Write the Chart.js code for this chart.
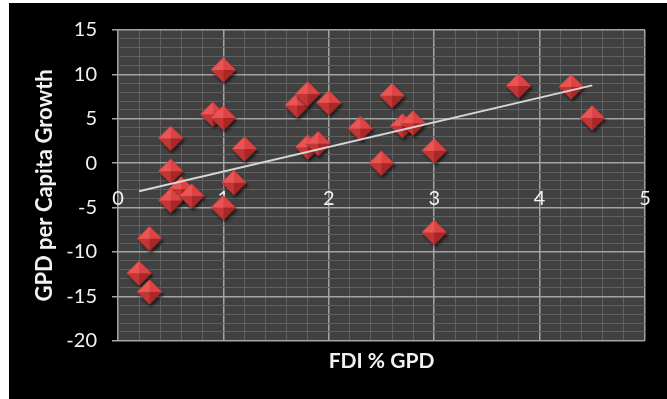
<!DOCTYPE html>
<html>
<head>
<meta charset="utf-8">
<script src="https://cdn.jsdelivr.net/npm/chart.js@4/dist/chart.umd.min.js"></script>
<style>
  html, body { margin: 0; padding: 0; background: #ffffff; width: 667px; height: 399px; overflow: hidden; }
  #frame { position: absolute; left: 9px; top: 3px; width: 658px; height: 396px; background: #000000; }
  #c { display: block; }
</style>
</head>
<body>
<div id="frame"><canvas id="c" width="658" height="396"></canvas></div>
<script>
// FDI inflows as % of GDP, one entry per observation
const fdiShare = [1.0, 0.9, 1.0, 0.5, 0.5, 0.6, 0.5, 0.7, 1.2, 1.1, 1.0, 0.3, 0.2, 0.3,
                  1.7, 1.8, 2.0, 1.8, 1.9, 2.3, 2.5, 2.6, 2.7, 2.8, 3.0, 3.0, 3.8, 4.3, 4.5];
// GDP per capita growth (%) for the same observations
const gdpGrowth = [10.5, 5.5, 5.1, 2.8, -0.9, -2.9, -4.2, -3.7, 1.6, -2.2, -5.0, -8.5, -12.4, -14.5,
                   6.5, 7.8, 6.8, 1.8, 2.2, 3.9, 0.0, 7.6, 4.2, 4.5, 1.4, -7.8, 8.7, 8.6, 5.1];

// Labelled ticks on each axis
const xTickLabels = ['0', '1', '2', '3', '4', '5'];
const yTickLabels = ['-20', '-15', '-10', '-5', '0', '5', '10', '15'];

const points = fdiShare.map((x, i) => ({ x: x, y: gdpGrowth[i] }));

// Least-squares trend line across the observed FDI range
function trendLine(xs, ys) {
  const n = xs.length;
  const mx = xs.reduce((a, b) => a + b, 0) / n;
  const my = ys.reduce((a, b) => a + b, 0) / n;
  let sxy = 0, sxx = 0;
  for (let i = 0; i < n; i++) {
    sxy += (xs[i] - mx) * (ys[i] - my);
    sxx += (xs[i] - mx) * (xs[i] - mx);
  }
  const slope = sxy / sxx;
  const icpt = my - slope * mx;
  const lo = Math.min(...xs), hi = Math.max(...xs);
  return [{ x: lo, y: icpt + slope * lo }, { x: hi, y: icpt + slope * hi }];
}

// Bevelled red diamond marker
function diamondSprite(r) {
  const size = 40;
  const cv = document.createElement('canvas');
  cv.width = size; cv.height = size;
  const g = cv.getContext('2d');
  const c = size / 2;
  const T = [c, c - r], R = [c + r, c], B = [c, c + r], L = [c - r, c], C = [c, c];
  const tri = (a, b, d, col) => {
    g.beginPath(); g.moveTo(a[0], a[1]); g.lineTo(b[0], b[1]); g.lineTo(d[0], d[1]); g.closePath();
    g.fillStyle = col; g.fill();
  };
  g.save();
  g.shadowColor = 'rgba(0,0,0,0.65)';
  g.shadowBlur = 3;
  g.shadowOffsetX = 1.5;
  g.shadowOffsetY = 2.5;
  g.beginPath(); g.moveTo(T[0], T[1]); g.lineTo(R[0], R[1]); g.lineTo(B[0], B[1]); g.lineTo(L[0], L[1]); g.closePath();
  g.fillStyle = '#b83030'; g.fill();
  g.restore();
  tri(L, T, C, '#ea5554');
  tri(T, R, C, '#dc4444');
  tri(L, B, C, '#c43636');
  tri(B, R, C, '#a82828');
  return cv;
}

const isWhole = v => Math.abs(v - Math.round(v)) < 1e-6;
const MAJOR = '#a4a4a4', MINOR = '#616161';

const plotBackground = {
  id: 'plotBackground',
  beforeDraw(chart) {
    const { ctx, chartArea: a } = chart;
    ctx.save();
    ctx.fillStyle = '#414141';
    ctx.fillRect(a.left, a.top, a.right - a.left, a.bottom - a.top);
    ctx.restore();
  }
};

const fontFamily = 'Lato, "Open Sans", sans-serif';

new Chart(document.getElementById('c'), {
  type: 'scatter',
  data: {
    datasets: [
      {
        label: 'Linear trend',
        data: trendLine(fdiShare, gdpGrowth),
        showLine: true,
        borderColor: '#d6d6d6',
        borderWidth: 2,
        pointRadius: 0
      },
      {
        label: 'GPD per Capita Growth',
        data: points,
        pointStyle: diamondSprite(12.5),
        pointRadius: 13
      }
    ]
  },
  options: {
    responsive: false,
    animation: false,
    events: [],
    layout: { padding: { top: 26, right: 22, bottom: 25, left: 0 } },
    plugins: {
      legend: { display: false },
      tooltip: { enabled: false },
      title: {
        display: true,
        position: 'bottom',
        fullSize: false,
        text: 'FDI % GPD',
        color: '#f2f2f2',
        font: { family: fontFamily, size: 21, weight: 'bold' },
        padding: { top: 8, bottom: 0 }
      }
    },
    scales: {
      x: {
        type: 'linear',
        position: { y: 0 },
        min: 0,
        max: 5,
        // labels sit inside the plot, so they need no side margin
        afterFit: scale => { scale.paddingLeft = 0; scale.paddingRight = 0; },
        border: { display: false },
        grid: {
          drawTicks: false,
          color: ctx => isWhole(ctx.tick.value) ? MAJOR : MINOR,
          lineWidth: ctx => isWhole(ctx.tick.value) ? 1.5 : 1
        },
        ticks: {
          stepSize: 0.2,
          autoSkip: false,
          maxRotation: 0,
          padding: 23,
          color: '#f2f2f2',
          font: { family: fontFamily, size: 20 },
          callback: v => (isWhole(v) && xTickLabels.includes(String(Math.round(v)))) ? String(Math.round(v)) : ''
        }
      },
      y: {
        type: 'linear',
        position: 'left',
        min: -20,
        max: 15,
        afterFit: scale => { scale.width = 109; },
        border: { display: false },
        grid: {
          tickLength: 6,
          color: ctx => (Math.round(ctx.tick.value) % 5 === 0) ? MAJOR : MINOR,
          tickColor: ctx => (Math.round(ctx.tick.value) % 5 === 0) ? MAJOR : 'rgba(0,0,0,0)',
          lineWidth: ctx => (Math.round(ctx.tick.value) % 5 === 0) ? 1.5 : 1
        },
        ticks: {
          stepSize: 1,
          autoSkip: false,
          padding: 15,
          color: '#f2f2f2',
          font: { family: fontFamily, size: 20 },
          callback: v => yTickLabels.includes(String(Math.round(v))) && Math.round(v) % 5 === 0 ? String(Math.round(v)) : ''
        },
        title: {
          display: true,
          text: 'GPD per Capita Growth',
          color: '#f2f2f2',
          font: { family: fontFamily, size: 22, weight: 'bold' },
          padding: { top: 23, bottom: 0 }
        }
      }
    }
  },
  plugins: [plotBackground]
});
</script>
</body>
</html>
